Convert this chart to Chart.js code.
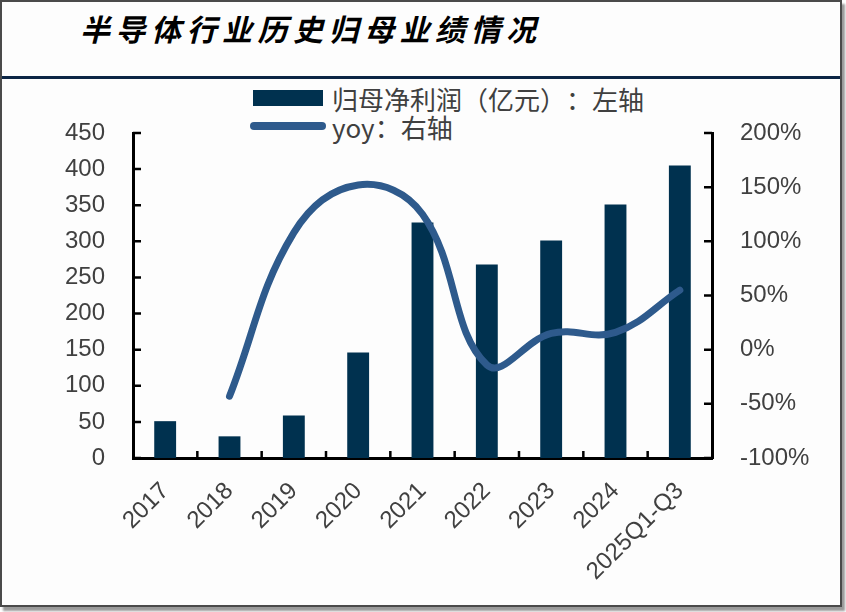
<!DOCTYPE html>
<html>
<head>
<meta charset="utf-8">
<script src="https://cdn.jsdelivr.net/npm/chart.js@4/dist/chart.umd.min.js"></script>
<style>
  html, body { margin: 0; padding: 0; background: #fff; }
  #wrap { position: relative; width: 846px; height: 612px; overflow: hidden; }
  #frame {
    position: absolute; left: 0; top: 0; width: 838px; height: 603px;
    border: 2px solid #4a4a4a; box-shadow: 3px 4px 2px #9a9a9a; background: #fdfdfd;
  }
  #title {
    position: absolute; left: 80px; top: 6px;
    font: italic bold 30px "Noto Sans CJK SC", sans-serif; letter-spacing: 5.5px; color: #000;
  }
  #rule { position: absolute; left: 2px; top: 76px; width: 838px; height: 3px; background: #0b2545; }
  #legend {
    position: absolute; left: 250px; top: 84px; font: 26px "Noto Sans CJK SC", sans-serif; color: #404040;
    text-spacing-trim: space-all; font-feature-settings: "fwid" 0;
  }
  .item { display: flex; align-items: center; height: 28px; }
  .sw { width: 76px; margin-right: 6px; display: flex; justify-content: center; }
  .bar { width: 70px; height: 16px; background: #00314f; }
  .ln { width: 76px; height: 8px; border-radius: 4px; background: #2e5a8c; }
  canvas { position: absolute; left: 0; top: 0; }
</style>
</head>
<body>
<div id="wrap">
  <div id="frame"></div>
  <div id="title">半导体行业历史归母业绩情况</div>
  <div id="rule"></div>
  <div id="legend"></div>
  <canvas id="c" width="846" height="612"></canvas>
</div>
<script>
const categories = ['2017', '2018', '2019', '2020', '2021', '2022', '2023', '2024', '2025Q1-Q3'];
const profit = [51, 30, 59, 146, 326, 268, 301, 351, 405];
const yoy = [null, -43, 108, 152, 125, -14, 15, 16, 55];
const leftTicks = [0, 450, 50];
const rightTicks = [-100, 200, 50];
const barLabel = '归母净利润（亿元）：左轴';
const lineLabel = 'yoy：右轴';

const barColor = '#00314f';
const lineColor = '#2e5a8c';
const textColor = '#404040';

document.getElementById('legend').innerHTML =
  '<div class="item"><div class="sw"><div class="bar"></div></div>' + barLabel + '</div>' +
  '<div class="item"><div class="sw"><div class="ln"></div></div>' + lineLabel + '</div>';

// short inward tick marks like the source chart
const innerTicks = {
  id: 'innerTicks',
  afterDraw(chart) {
    const { ctx, chartArea: a, scales } = chart;
    ctx.save();
    ctx.strokeStyle = '#000';
    ctx.lineWidth = 2.5;
    ctx.beginPath();
    for (let v = leftTicks[0]; v <= leftTicks[1]; v += leftTicks[2]) {
      const y = scales.y.getPixelForValue(v);
      ctx.moveTo(a.left, y); ctx.lineTo(a.left + 8, y);
    }
    for (let v = rightTicks[0]; v <= rightTicks[1]; v += rightTicks[2]) {
      const y = scales.y1.getPixelForValue(v);
      ctx.moveTo(a.right, y); ctx.lineTo(a.right - 8, y);
    }
    for (let i = 0; i < categories.length - 1; i++) {
      const x = (scales.x.getPixelForValue(i) + scales.x.getPixelForValue(i + 1)) / 2;
      ctx.moveTo(x, a.bottom); ctx.lineTo(x, a.bottom - 7);
    }
    ctx.stroke();
    ctx.restore();
  }
};

new Chart(document.getElementById('c'), {
  data: {
    labels: categories,
    datasets: [
      {
        type: 'line', label: lineLabel, data: yoy, yAxisID: 'y1',
        borderColor: lineColor, borderWidth: 7, tension: 0.4,
        pointRadius: 0, borderCapStyle: 'round', order: 0
      },
      {
        type: 'bar', label: barLabel, data: profit, yAxisID: 'y',
        backgroundColor: barColor, barPercentage: 0.34, categoryPercentage: 1, order: 1
      }
    ]
  },
  options: {
    responsive: false,
    animation: false,
    layout: { padding: { top: 133, left: 0, right: 0, bottom: 0 } },
    plugins: { legend: { display: false }, tooltip: { enabled: false } },
    scales: {
      x: {
        offset: true,
        grid: { display: false },
        border: { display: true, color: '#000', width: 3 },
        ticks: { color: textColor, font: { family: 'Liberation Sans', size: 24 }, minRotation: 45, maxRotation: 45, padding: 11 },
        afterFit(s) { s.height = 154; }
      },
      y: {
        position: 'left', min: leftTicks[0], max: leftTicks[1],
        grid: { display: false, drawTicks: false },
        border: { display: true, color: '#000', width: 3 },
        ticks: { stepSize: leftTicks[2], color: textColor, font: { family: 'Liberation Sans', size: 24 }, padding: 28 },
        afterFit(s) { s.width = 133; }
      },
      y1: {
        position: 'right', min: rightTicks[0], max: rightTicks[1],
        grid: { display: false, drawTicks: false },
        border: { display: true, color: '#000', width: 3 },
        ticks: { stepSize: rightTicks[2], color: textColor, font: { family: 'Liberation Sans', size: 24 }, padding: 28, callback: v => v + '%' },
        afterFit(s) { s.width = 134; }
      }
    }
  },
  plugins: [innerTicks]
});
</script>
</body>
</html>
